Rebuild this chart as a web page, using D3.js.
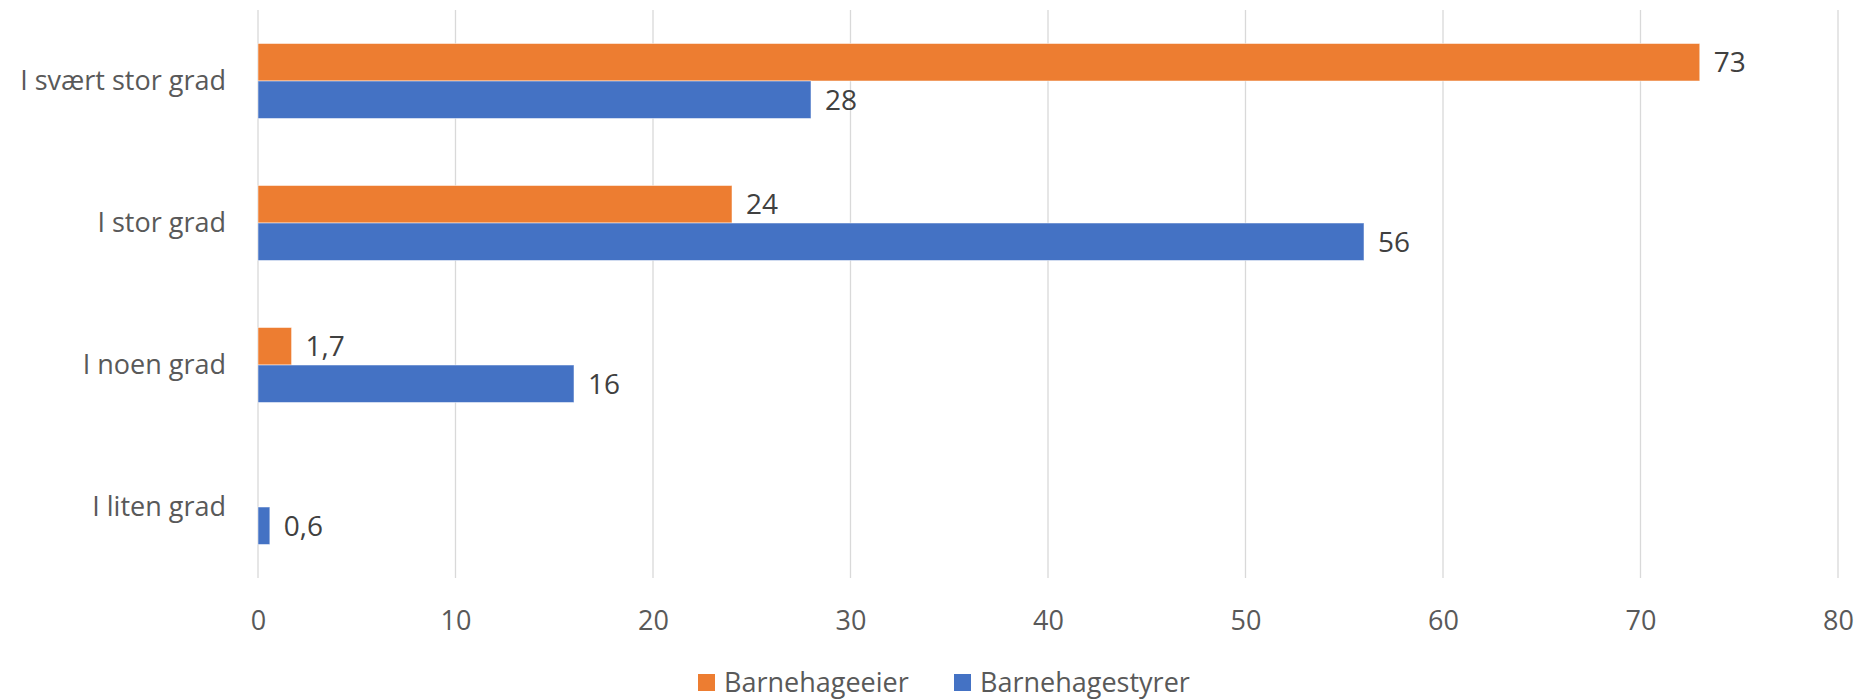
<!DOCTYPE html>
<html>
<head>
<meta charset="utf-8">
<script src="https://cdn.jsdelivr.net/npm/d3@7"></script>
<style>
  html, body { margin: 0; padding: 0; background: #fff; }
  svg { display: block; font-family: "Open Sans", sans-serif; }
</style>
</head>
<body>
<svg id="chart" width="1862" height="700"></svg>
<script>
const categories = ["I svært stor grad", "I stor grad", "I noen grad", "I liten grad"];
const seriesNames = ["Barnehageeier", "Barnehagestyrer"];
const eierValues = [73, 24, 1.7, null];
const styrerValues = [28, 56, 16, 0.6];
const xTicks = [0, 10, 20, 30, 40, 50, 60, 70, 80];
const colors = ["#ED7D31", "#4472C4"];

const W = 1862, H = 700;
const margin = { left: 258, right: 24, top: 10, bottom: 122 };
const svg = d3.select("#chart");
const fs = 27;

const x = d3.scaleLinear().domain([0, 80]).range([margin.left, 1838]);
const y = d3.scaleBand().domain(categories).range([margin.top, H - margin.bottom]).paddingInner(0.4718).paddingOuter(0.2359);
const sub = d3.scaleBand().domain(seriesNames).range([0, y.bandwidth()]);

// gridlines
svg.append("g").selectAll("line").data(xTicks).join("line")
  .attr("x1", d => x(d)).attr("x2", d => x(d))
  .attr("y1", margin.top).attr("y2", H - margin.bottom)
  .attr("stroke", "#d9d9d9").attr("stroke-width", 1.3);

// x axis tick labels
const xAxis = d3.axisBottom(x).tickValues(xTicks).tickSize(0).tickPadding(0).tickFormat(d3.format("d"));
const gx = svg.append("g").attr("transform", `translate(0,${H - margin.bottom + 43})`).call(xAxis);
gx.select(".domain").remove();
gx.selectAll("text").attr("fill", "#595959").attr("font-size", fs).attr("font-family", "Open Sans").attr("dy", "0.32em").attr("y", 0);

// y axis labels
const yAxis = d3.axisLeft(y).tickSize(0).tickPadding(0);
const gy = svg.append("g").attr("transform", `translate(${margin.left - 32},0)`).call(yAxis);
gy.select(".domain").remove();
gy.selectAll("text").attr("fill", "#595959").attr("font-size", fs).attr("font-family", "Open Sans").attr("dy", "0.32em");

const fmt = v => String(v).replace(".", ",");
const seriesData = [eierValues, styrerValues];

seriesData.forEach((vals, si) => {
  const data = categories.map((c, i) => ({ c, v: vals[i] })).filter(d => d.v !== null);
  const g = svg.append("g");
  g.selectAll("rect").data(data).join("rect")
    .attr("x", x(0))
    .attr("y", d => y(d.c) + sub(seriesNames[si]))
    .attr("width", d => x(d.v) - x(0))
    .attr("height", sub.bandwidth())
    .attr("fill", colors[si])
    .attr("stroke", "#ffffff").attr("stroke-opacity", 0.5).attr("stroke-width", 1);
  g.selectAll("text").data(data).join("text")
    .attr("x", d => x(d.v) + 14)
    .attr("y", d => y(d.c) + sub(seriesNames[si]) + sub.bandwidth() / 2)
    .attr("dy", "0.35em")
    .attr("fill", "#404040").attr("font-size", 28)
    .text(d => fmt(d.v));
});

// legend
const legend = svg.append("g");
const legendItems = [{ name: seriesNames[0], x: 698 }, { name: seriesNames[1], x: 954 }];
legendItems.forEach((it, i) => {
  legend.append("rect").attr("x", it.x).attr("y", 674).attr("width", 17).attr("height", 17).attr("fill", colors[i]);
  legend.append("text").attr("x", it.x + 26).attr("y", 683).attr("dy", "0.35em")
    .attr("fill", "#595959").attr("font-size", fs).text(it.name);
});
</script>
</body>
</html>
